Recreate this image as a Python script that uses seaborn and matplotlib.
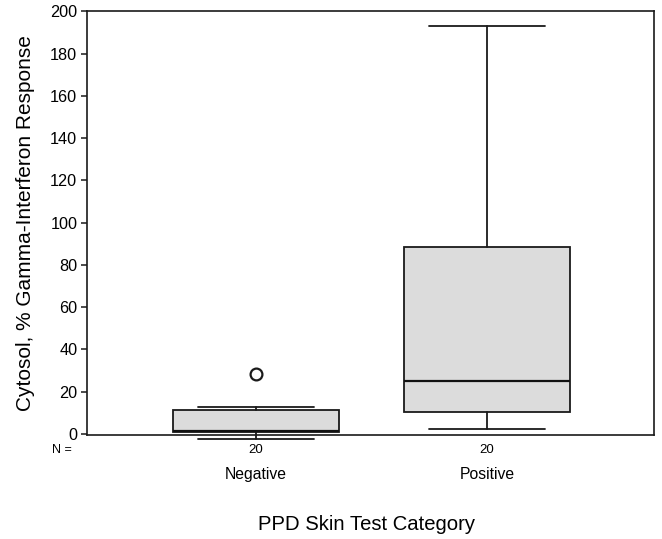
import matplotlib
matplotlib.use("Agg")
import matplotlib.pyplot as plt
import matplotlib.transforms as mtransforms
import seaborn as sns

# ---- data ----
categories = ["Negative", "Positive"]
whisker_low = [-2.4, 2.4]
q1 = [0.9, 10.4]
median = [1.6, 25.1]
q3 = [11.4, 88.5]
whisker_high = [13.0, 193.2]
outliers = [[28.6], []]
n_counts = [20, 20]
y_ticks = [0, 20, 40, 60, 80, 100, 120, 140, 160, 180, 200]

sns.set_style("white")
plt.rcParams["font.family"] = ["Liberation Sans", "DejaVu Sans"]
plt.rcParams["text.color"] = "black"
plt.rcParams["axes.labelcolor"] = "black"
plt.rcParams["xtick.color"] = "black"
plt.rcParams["ytick.color"] = "black"

fig = plt.figure(figsize=(6.62, 5.39), dpi=100)
ax = fig.add_axes([0.1314, 0.1929, 0.8565, 0.786])

stats = []
for i, cat in enumerate(categories):
    stats.append(dict(label=cat, med=median[i], q1=q1[i], q3=q3[i],
                      whislo=whisker_low[i], whishi=whisker_high[i],
                      fliers=outliers[i]))

line_kw = dict(color="#1a1a1a", linewidth=1.3)
art = ax.bxp(stats, positions=range(len(categories)), widths=0.72,
             capwidths=0.5, patch_artist=True, showfliers=True,
             boxprops=dict(facecolor="#dcdcdc", edgecolor="#1a1a1a", linewidth=1.3),
             medianprops=dict(color="#111111", linewidth=1.6),
             whiskerprops=line_kw, capprops=line_kw,
             flierprops=dict(marker="o", markerfacecolor="none",
                             markeredgecolor="#1a1a1a", markersize=8.5,
                             markeredgewidth=1.6))
for key in art:
    for a in art[key]:
        a.set_clip_on(False)

ax.set_xlim(-0.732, 1.723)
ax.set_ylim(-0.5, 200)
ax.set_yticks(y_ticks)
ax.set_yticklabels([str(t) for t in y_ticks], fontsize=11.7)
ax.tick_params(axis="y", direction="out", length=4, width=1.1, color="#1a1a1a",
               left=True, pad=3)
ax.set_xticks(range(len(categories)))
ax.set_xticklabels(categories, fontsize=11.3)
ax.tick_params(axis="x", length=0, pad=23)

for s in ax.spines.values():
    s.set_visible(True)
    s.set_color("#1a1a1a")
    s.set_linewidth(1.2)

trans = mtransforms.blended_transform_factory(ax.transData, ax.transAxes)
for i, n in enumerate(n_counts):
    ax.text(i, -0.035, str(n), transform=trans, ha="center", va="center",
            fontsize=9.5)
ax.text(-0.045, -0.035, "N =", transform=ax.transAxes, ha="center",
        va="center", fontsize=9)

ax.set_ylabel("Cytosol, % Gamma-Interferon Response", fontsize=15, labelpad=11)
fig.text(0.553, 1 - 525 / 539, "PPD Skin Test Category", ha="center",
         va="center", fontsize=14.6)

fig.savefig("out.png", dpi=100, facecolor="white")
